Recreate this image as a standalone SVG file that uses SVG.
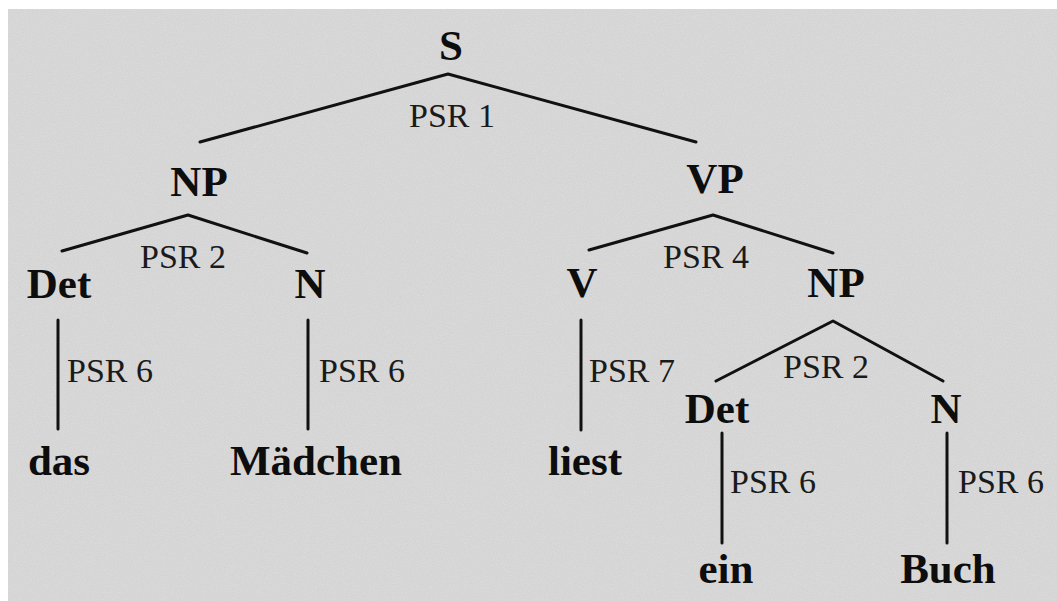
<svg xmlns="http://www.w3.org/2000/svg" width="1057" height="601" viewBox="0 0 1057 601">
<defs>
<style>
.bg{fill:#d4d4d4}
.cat{font-family:"Liberation Serif","Times New Roman",serif;font-weight:bold;font-size:43px;fill:#0d0d0d;text-anchor:middle}
.rule{font-family:"Liberation Serif","Times New Roman",serif;font-size:34px;fill:#1a1a1a}
.edge{stroke:#111;stroke-width:3;fill:none;stroke-linecap:round;stroke-linejoin:round}
</style>
<filter id="grain" x="0" y="0" width="100%" height="100%">
<feTurbulence type="fractalNoise" baseFrequency="0.9" numOctaves="2" seed="3" result="n"/>
<feColorMatrix in="n" type="matrix" values="0 0 0 0 1  0 0 0 0 1  0 0 0 0 1  0 0 0 0.35 -0.12" result="w"/>
<feComposite in="w" in2="SourceGraphic" operator="in"/>
</filter>
</defs>
<rect width="1057" height="601" fill="#fff"/>
<rect class="bg" x="8" y="9" width="1049" height="592"/>
<rect x="8" y="9" width="1049" height="592" fill="#d4d4d4" filter="url(#grain)"/>
<g id="connectors">
<polyline class="edge" points="200,142 448,74 696,142"/>
<polyline class="edge" points="62,251 188,215 307,253"/>
<polyline class="edge" points="589,250 713,215 833,253"/>
<polyline class="edge" points="716,381 833,321 943,381"/>
<line class="edge" x1="58" y1="320" x2="58" y2="429"/>
<line class="edge" x1="308" y1="320" x2="308" y2="429"/>
<line class="edge" x1="581" y1="320" x2="581" y2="430"/>
<line class="edge" x1="722" y1="433" x2="722" y2="543"/>
<line class="edge" x1="947" y1="433" x2="947" y2="543"/>
</g>
<g id="rules">
<text class="rule" x="409" y="127">PSR 1</text>
<text class="rule" x="140" y="268">PSR 2</text>
<text class="rule" x="663" y="268">PSR 4</text>
<text class="rule" x="783" y="378">PSR 2</text>
<text class="rule" x="67" y="382">PSR 6</text>
<text class="rule" x="319" y="382">PSR 6</text>
<text class="rule" x="589" y="382">PSR 7</text>
<text class="rule" x="730" y="493">PSR 6</text>
<text class="rule" x="958" y="493">PSR 6</text>
</g>
<g id="S"><text class="cat" x="451" y="60">S</text></g>
<g id="NP1"><text class="cat" x="199" y="196">NP</text></g>
<g id="VP"><text class="cat" x="715" y="193">VP</text></g>
<g id="Det1"><text class="cat" x="59" y="298">Det</text></g>
<g id="N1"><text class="cat" x="310" y="298">N</text></g>
<g id="V"><text class="cat" x="582" y="297">V</text></g>
<g id="NP2"><text class="cat" x="836" y="297">NP</text></g>
<g id="das"><text class="cat" x="59" y="475">das</text></g>
<g id="Maedchen"><text class="cat" x="316" y="475">Mädchen</text></g>
<g id="liest"><text class="cat" x="585" y="475">liest</text></g>
<g id="Det2"><text class="cat" x="717" y="423">Det</text></g>
<g id="N2"><text class="cat" x="946" y="423">N</text></g>
<g id="ein"><text class="cat" x="726" y="583">ein</text></g>
<g id="Buch"><text class="cat" x="948" y="583">Buch</text></g>
</svg>
